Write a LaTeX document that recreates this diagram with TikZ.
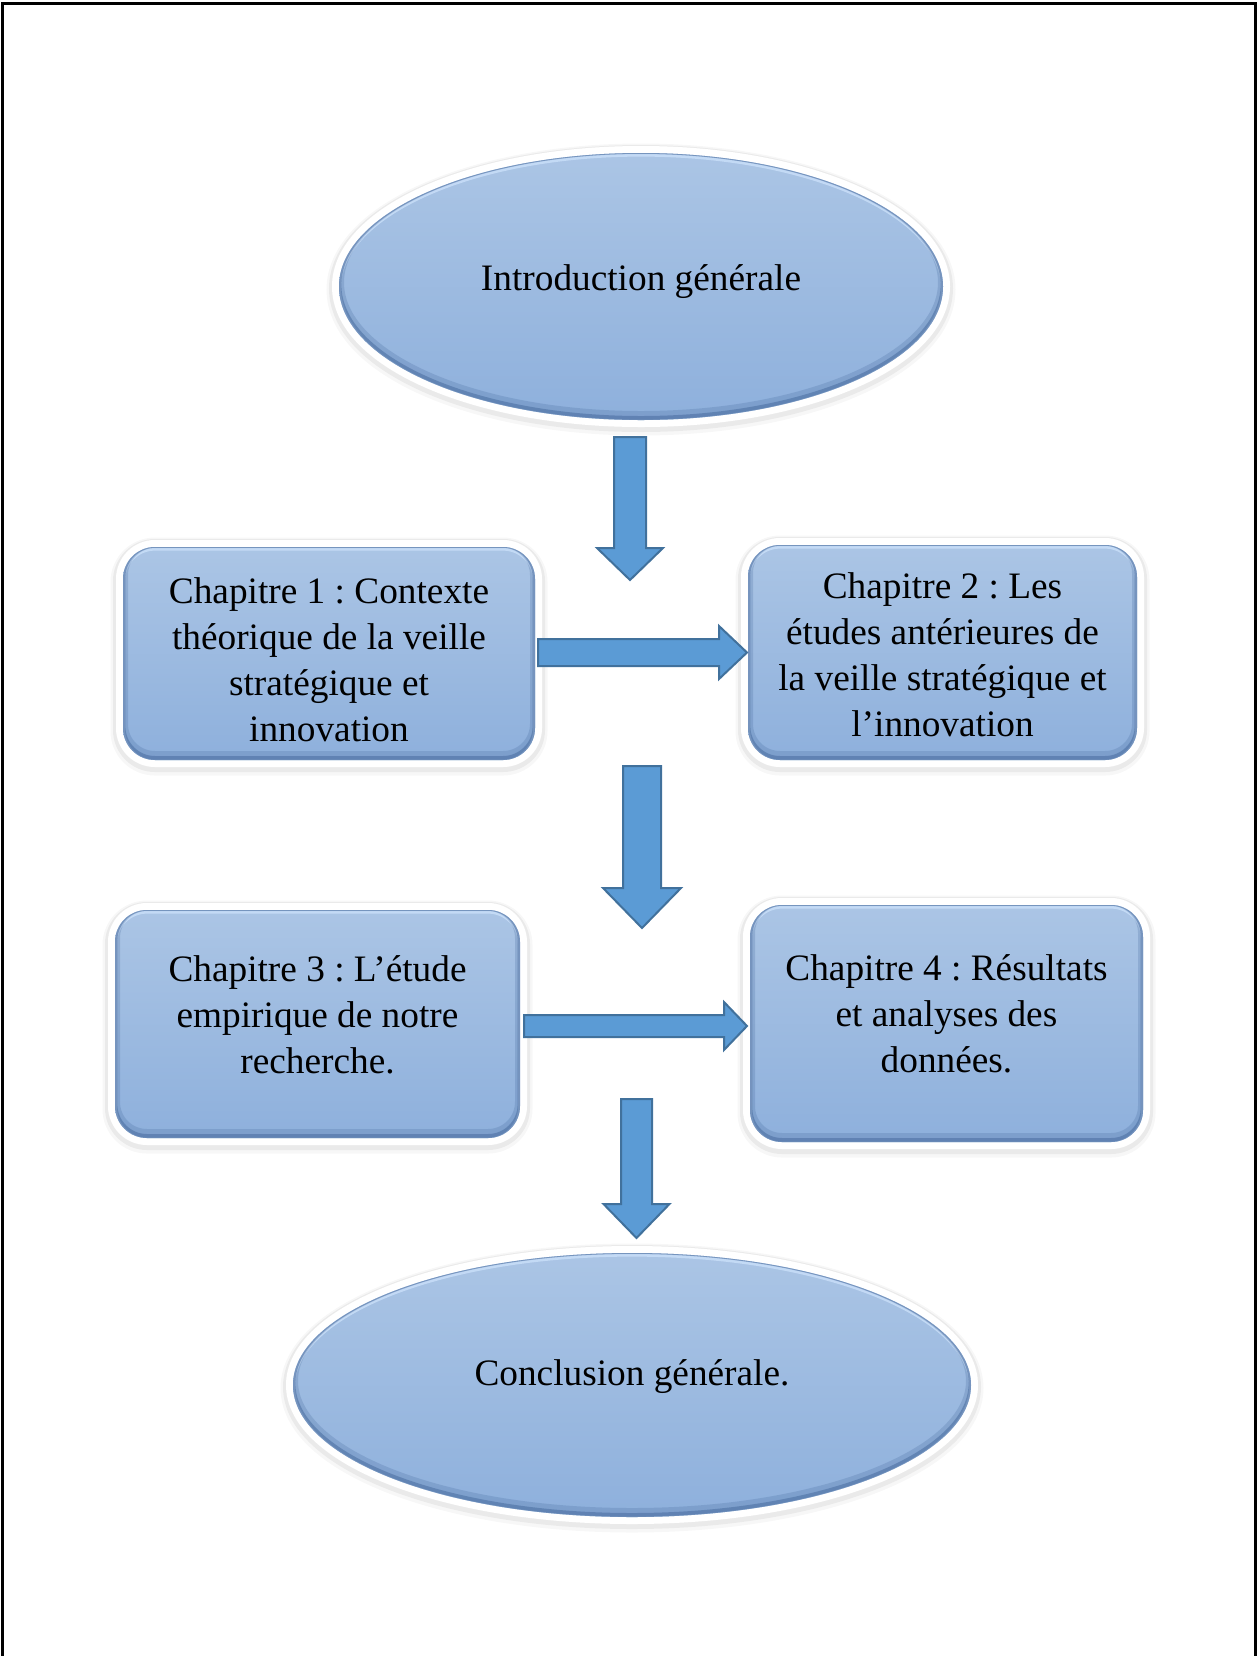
\documentclass[tikz,border=0pt]{standalone}
\usepackage{fontspec}
\setmainfont{Liberation Serif}
\usetikzlibrary{calc,shapes.geometric}

\definecolor{shadetop}{RGB}{171,197,229}
\definecolor{shadebot}{RGB}{142,176,220}
\definecolor{bevelblue}{RGB}{62,98,150}
\definecolor{glintblue}{RGB}{200,222,248}
\definecolor{arrowfill}{RGB}{91,155,213}
\definecolor{arrowedge}{RGB}{65,113,156}

\newcommand\lblfont{\fontsize{18.65pt}{23pt}\selectfont\frenchspacing}

% block arrow pointing right: start (left end of shaft), tip, shaft half-height, head half-height, head length
\newcommand\rightblock[5]{%
  \path[blockarrow] let \p1=(#1), \p2=(#2) in
    (\x1,\y1+#3) -- (\x2-#5,\y1+#3) -- (\x2-#5,\y1+#4) -- (\x2,\y1)
    -- (\x2-#5,\y1-#4) -- (\x2-#5,\y1-#3) -- (\x1,\y1-#3) -- cycle;}
% block arrow pointing down: top of shaft, tip, shaft half-width, head half-width, head length
\newcommand\downblock[5]{%
  \path[blockarrow] let \p1=(#1), \p2=(#2) in
    (\x1-#3,\y1) -- (\x1+#3,\y1) -- (\x1+#3,\y2+#5) -- (\x1+#4,\y2+#5) -- (\x1,\y2)
    -- (\x1-#4,\y2+#5) -- (\x1-#3,\y2+#5) -- cycle;}

\tikzset{
  softshadow/.style={
    preaction={draw=black, draw opacity=0.03, line width=12.5pt, transform canvas={yshift=-1.5pt}},
    preaction={draw=black, draw opacity=0.05, line width=10pt, transform canvas={yshift=-1pt}}},
  rim/.style={preaction={draw=white, line width=7pt}},
  bevelwide/.style={draw=bevelblue, draw opacity=0.22, line width=5pt},
  bevelthin/.style={draw=bevelblue, draw opacity=0.45, line width=2.4pt},
  glint/.style={draw=glintblue, draw opacity=0.85, line width=2pt},
  boxbevel/.style={path picture={
    \draw[glint, rounded corners=16pt]
      ([yshift=-0.8pt]path picture bounding box.south west) rectangle ([yshift=-0.8pt]path picture bounding box.north east);
    \draw[bevelwide, rounded corners=16pt]
      ([yshift=2pt]path picture bounding box.south west) rectangle ([yshift=2pt]path picture bounding box.north east);
    \draw[bevelthin, rounded corners=16pt]
      ([yshift=0.8pt]path picture bounding box.south west) rectangle ([yshift=0.8pt]path picture bounding box.north east);
  }},
  ovalbevel/.style 2 args={path picture={
    \draw[glint] ([yshift=-0.8pt]path picture bounding box.center) ellipse [x radius=#1, y radius=#2];
    \draw[bevelwide] ([yshift=2pt]path picture bounding box.center) ellipse [x radius=#1, y radius=#2];
    \draw[bevelthin] ([yshift=0.8pt]path picture bounding box.center) ellipse [x radius=#1, y radius=#2];
  }},
  facet/.style={inner sep=0pt, outer sep=0pt, top color=shadetop, bottom color=shadebot,
    softshadow, rim},
  panel/.style={facet, rectangle, rounded corners=16pt, boxbevel},
  oval/.style={facet, ellipse},
  lbl/.style={font=\lblfont, align=center, inner sep=0pt, text=black},
  blockarrow/.style={fill=arrowfill, draw=arrowedge, line width=1pt, line join=miter},
}

\begin{document}
\begin{tikzpicture}[x=0.5pt, y=-0.5pt]
\useasboundingbox (0,0) rectangle (1257,1656);

% page frame (open at the bottom)
\draw[line width=1.5pt] (2.5,1656) -- (2.5,3.5) -- (1255.5,3.5) -- (1255.5,1656);

% ovals
\node[oval, ovalbevel={151pt}{66.75pt}, minimum width=302pt, minimum height=133.5pt,
  label={[lbl, name=intro-text, yshift=2.5pt]center:{Introduction générale}}]
  (intro) at (641,286.5) {};
\node[oval, ovalbevel={169.5pt}{66pt}, minimum width=339pt, minimum height=132pt,
  label={[lbl, name=conc-text, yshift=4pt]center:{Conclusion générale.}}]
  (conc) at (632,1385) {};

% chapter panels
\node[panel, minimum width=206pt, minimum height=106.5pt,
  label={[lbl, name=ch1-text, yshift=-3pt]center:{Chapitre 1 : Contexte\\théorique de la veille\\stratégique et\\innovation}}]
  (ch1) at (329,653.5) {};
\node[panel, minimum width=194.5pt, minimum height=107.5pt,
  label={[lbl, name=ch2-text, yshift=-1pt]center:{Chapitre 2 : Les\\études antérieures de\\la veille stratégique et\\l’innovation}}]
  (ch2) at (942.5,652.5) {};
\node[panel, minimum width=202.5pt, minimum height=114pt,
  label={[lbl, name=ch3-text, yshift=4.5pt]center:{Chapitre 3 : L’étude\\empirique de notre\\recherche.}}]
  (ch3) at (317.5,1024) {};
\node[panel, minimum width=196.5pt, minimum height=118.5pt,
  label={[lbl, name=ch4-text, yshift=5pt]center:{Chapitre 4 : Résultats\\et analyses des\\données.}}]
  (ch4) at (946.5,1023.5) {};

% free ends of the downward arrows
\coordinate (d1top) at (630,437);
\coordinate (d1tip) at (630,580);
\coordinate (d2top) at (642,766);
\coordinate (d2tip) at (642,928);
\coordinate (d3top) at (636.5,1099);
\coordinate (d3tip) at (636.5,1238);

% arrows
\downblock{d1top}{d1tip}{8pt}{16.5pt}{16pt}
\rightblock{$(ch1.east)+(3,-1)$}{$(ch2.west)+(-1,-1)$}{6.75pt}{13.25pt}{14pt}
\downblock{d2top}{d2tip}{9.5pt}{19.5pt}{20pt}
\rightblock{$(ch3.east)+(4,2)$}{$(ch4.west)+(-3,2.5)$}{5.5pt}{12pt}{11.5pt}
\downblock{d3top}{d3tip}{7.75pt}{16.5pt}{17pt}
\end{tikzpicture}
\end{document}
